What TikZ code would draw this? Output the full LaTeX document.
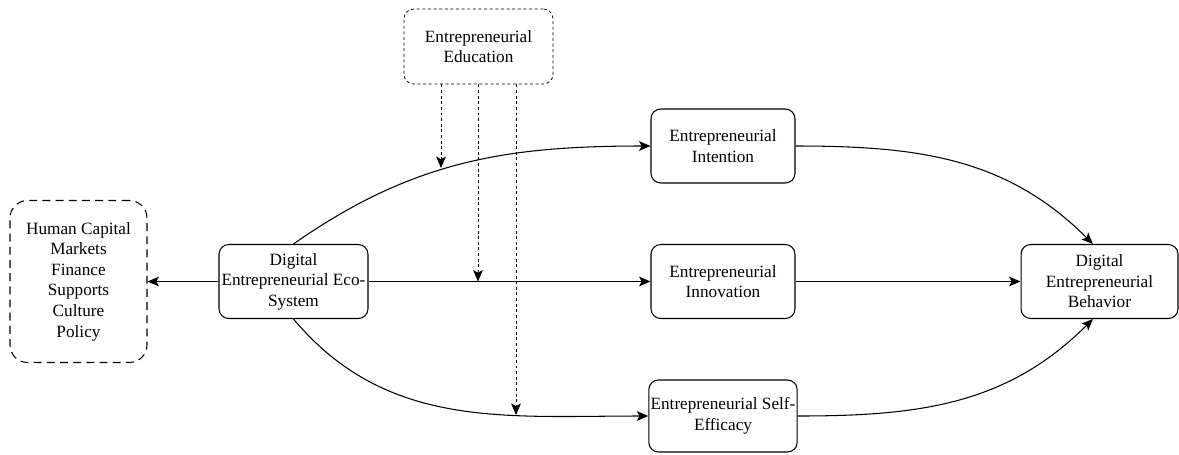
\documentclass[tikz,border=0pt]{standalone}
\usepackage{fontspec}
\setmainfont{Liberation Serif}
\usetikzlibrary{arrows.meta}
\tikzset{
  box/.style={draw, rounded corners=5.5pt, line width=0.6pt, minimum width=2.88cm,
    minimum height=1.48cm, align=center, inner sep=1pt,
    font=\fontsize{9.8}{11.7}\selectfont},
  link/.style={->, >={Stealth[length=6.5pt,width=5.5pt,inset=1.5pt]}, line width=0.6pt},
  modline/.style={link, line width=0.45pt, dash pattern=on 1.7pt off 1.5pt},
}

\begin{document}
\begin{tikzpicture}[x=0.02cm,y=-0.02cm]
\useasboundingbox (0,0) rectangle (1179,454);

\node[box, dash pattern=on 4.5pt off 3pt, rounded corners=10pt, minimum width=2.74cm, minimum height=3.24cm] (Fac) at (78.5,281.5) {Human Capital\\Markets\\Finance\\Supports\\Culture\\Policy};
\node[box, minimum width=2.98cm] (Eco) at (293.5,281.5) {Digital\\Entrepreneurial Eco-\\System};
\node[box, line width=0.45pt, dash pattern=on 1.7pt off 1.5pt, minimum width=2.98cm, minimum height=1.5cm] (Edu) at (478.5,46.5) {Entrepreneurial\\Education};
\node[box] (Int) at (723,146) {Entrepreneurial\\Intention};
\node[box] (Inn) at (723,281.5) {Entrepreneurial\\Innovation};
\node[box, minimum height=1.44cm] (Eff) at (723,416) {Entrepreneurial Self-\\Efficacy};
\node[box, minimum width=3.14cm] (Beh) at (1099.5,281.5) {Digital\\Entrepreneurial\\Behavior};

% main paths
\draw[link] (Eco) -- (Fac);
\draw[link] (Eco) -- (Inn);
\draw[link] (Inn) -- (Beh);
\draw[link] (Eco.north) to[out=35,in=180] (Int.west);
\draw[link] (Eco.south) to[out=-50,in=180] (Eff.west);
\draw[link] (Int.east) to[out=0,in=135] (Beh.100);
\draw[link] (Eff.east) to[out=0,in=-135] (Beh.-100);

% moderation by education
\coordinate (m1) at (441,168);
\coordinate (m2) at (478,281.5);
\coordinate (m3) at (516,415);
\draw[modline] (Edu.south -| m1) -- (m1);
\draw[modline] (Edu.south -| m2) -- (m2);
\draw[modline] (Edu.south -| m3) -- (m3);
\end{tikzpicture}
\end{document}
